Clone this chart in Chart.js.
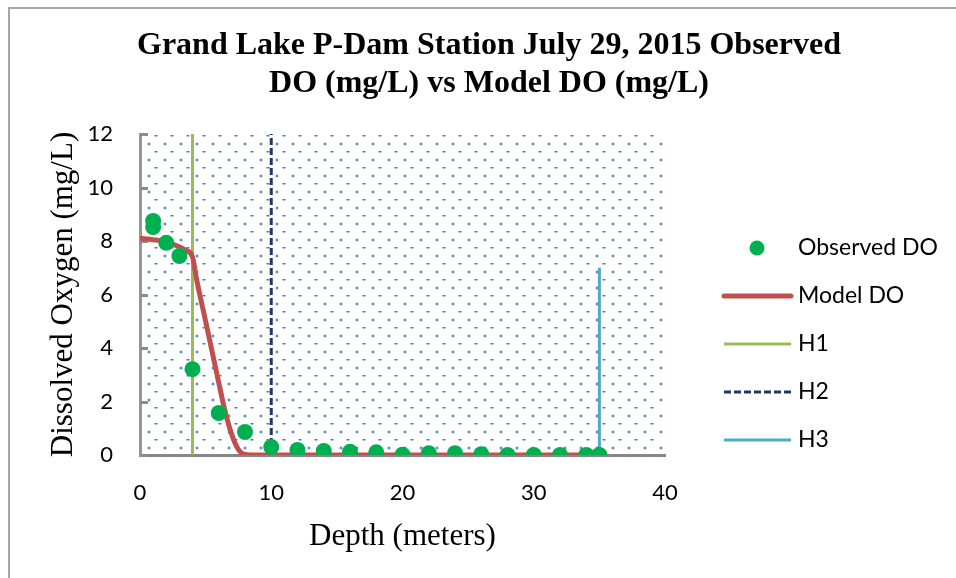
<!DOCTYPE html>
<html>
<head>
<meta charset="utf-8">
<script src="https://cdn.jsdelivr.net/npm/chart.js@4"></script>
<style>
  body { margin: 0; background: #fff; }
  #wrap { width: 956px; height: 578px; position: relative; }
</style>
</head>
<body>
<div id="wrap"><canvas id="doChart"></canvas></div>
<script>
// --- data ---
const obsDepth = [1, 1, 2, 3, 4, 6, 8, 10, 12, 14, 16, 18, 20, 22, 24, 26, 28, 30, 32, 34, 35];
const obsDO = [8.75, 8.52, 7.93, 7.44, 3.21, 1.57, 0.86, 0.3, 0.19, 0.15, 0.12, 0.1, 0.01, 0.07, 0.07, 0.03, 0, 0, 0, 0, 0];

const modelDepth = [0, 1, 2, 3, 3.5, 4, 4.3, 5, 5.5, 6, 6.5, 7, 7.5, 8, 9, 35];
const modelDO = [8.1, 8.05, 7.97, 7.78, 7.65, 7.4, 6.6, 5.0, 3.85, 2.7, 1.6, 0.75, 0.2, 0.02, 0, 0];

const h1Depth = [4, 4];
const h1DO = [0, 12];
const h2Depth = [10, 10];
const h2DO = [0, 12];
const h3Depth = [35, 35];
const h3DO = [0, 7];

const xTicks = [0, 10, 20, 30, 40];
const yTicks = [0, 2, 4, 6, 8, 10, 12];

const titleLines = ['Grand Lake P-Dam Station July 29, 2015 Observed', 'DO (mg/L) vs Model DO (mg/L)'];

function pts(xs, ys) {
    return xs.map((x, i) => ({ x: x, y: ys[i] }));
}

// --- dotted plot-area fill (16px tile) ---
function makePattern() {
    const c = document.createElement('canvas');
    c.width = 16; c.height = 16;
    const g = c.getContext('2d');
    g.fillStyle = '#a9c2ea';
    g.fillRect(7.5, 8.5, 3, 3);
    g.fillStyle = '#5a88d2';
    g.fillRect(8, 9, 2, 2);
    g.fillStyle = '#4a7bcb';
    g.fillRect(-1.5, 1, 3, 1.5);
    g.fillRect(14.5, 1, 3, 1.5);
    return c;
}
const patternTile = makePattern();

const backdrop = {
    id: 'backdrop',
    beforeDraw(chart) {
        const { ctx, chartArea: a } = chart;
        ctx.save();
        ctx.fillStyle = '#fff';
        ctx.fillRect(0, 0, chart.width, chart.height);
        // outer frame, only left and top show
        ctx.strokeStyle = '#a6a6a6';
        ctx.lineWidth = 2;
        ctx.beginPath();
        ctx.moveTo(9, chart.height);
        ctx.lineTo(9, 8);
        ctx.lineTo(chart.width, 8);
        ctx.stroke();
        // pattern
        ctx.translate(a.left, a.top);
        ctx.fillStyle = ctx.createPattern(patternTile, 'repeat');
        ctx.fillRect(0, 0, a.right - a.left, a.bottom - a.top);
        ctx.restore();
    },
    beforeDatasetsDraw(chart) {
        // inward tick marks on the y axis
        const { ctx, chartArea: a } = chart;
        const y = chart.scales.y;
        ctx.save();
        ctx.strokeStyle = '#8c8c8c';
        ctx.lineWidth = 3;
        yTicks.forEach(v => {
            const py = Math.round(y.getPixelForValue(v)) + 0.5;
            ctx.beginPath();
            ctx.moveTo(a.left, py);
            ctx.lineTo(a.left + 8, py);
            ctx.stroke();
        });
        ctx.restore();
    }
};

// --- legend drawn in the right margin ---
const sideLegend = {
    id: 'sideLegend',
    afterDraw(chart) {
        const ctx = chart.ctx;
        const rows = [248, 296, 344, 392, 440];
        ctx.save();
        ctx.font = '23px Lato';
        ctx.textBaseline = 'middle';
        chart.data.datasets.forEach((ds, i) => {
            const y = rows[i];
            if (i === 0) {
                ctx.fillStyle = ds.backgroundColor;
                ctx.beginPath();
                ctx.arc(757, y, 7.5, 0, Math.PI * 2);
                ctx.fill();
            } else {
                ctx.strokeStyle = ds.borderColor;
                ctx.lineWidth = ds.borderWidth;
                ctx.setLineDash(ds.borderDash || []);
                ctx.lineCap = i === 1 ? 'round' : 'butt';
                ctx.beginPath();
                ctx.moveTo(724, y);
                ctx.lineTo(791, y);
                ctx.stroke();
                ctx.setLineDash([]);
            }
            ctx.fillStyle = '#000';
            ctx.fillText(ds.label, 798, y);
        });
        ctx.restore();
    }
};

const ctx = document.getElementById('doChart').getContext('2d');
new Chart(ctx, {
    type: 'scatter',
    data: {
        datasets: [
            {
                label: 'Observed DO',
                data: pts(obsDepth, obsDO),
                backgroundColor: '#00b050',
                borderWidth: 0,
                pointRadius: 8,
                showLine: false,
                order: 0
            },
            {
                label: 'Model DO',
                data: pts(modelDepth, modelDO),
                borderColor: '#c0504d',
                borderWidth: 5,
                pointRadius: 0,
                showLine: true,
                cubicInterpolationMode: 'monotone',
                order: 1
            },
            {
                label: 'H1',
                data: pts(h1Depth, h1DO),
                borderColor: '#9bbb59',
                borderWidth: 3,
                pointRadius: 0,
                showLine: true,
                order: 2
            },
            {
                label: 'H2',
                data: pts(h2Depth, h2DO),
                borderColor: '#1f3864',
                borderWidth: 3,
                borderDash: [7, 3],
                pointRadius: 0,
                showLine: true,
                order: 2
            },
            {
                label: 'H3',
                data: pts(h3Depth, h3DO),
                borderColor: '#4bacc6',
                borderWidth: 3,
                pointRadius: 0,
                showLine: true,
                order: 2
            }
        ]
    },
    options: {
        responsive: true,
        maintainAspectRatio: false,
        animation: false,
        layout: { padding: { left: 22, right: 0, top: 0, bottom: 0 } },
        plugins: {
            legend: { display: false },
            tooltip: { enabled: false },
            title: {
                display: true,
                text: titleLines,
                color: '#000',
                font: { family: '"Liberation Serif"', size: 32, weight: 'bold', lineHeight: 38 / 32 },
                padding: { top: 26.5, bottom: 31.5 }
            }
        },
        scales: {
            x: {
                type: 'linear',
                min: 0,
                max: 40,
                afterBuildTicks: s => { s.ticks = xTicks.map(v => ({ value: v })); },
                afterFit: s => { s.height = 123; },
                grid: { display: false, drawTicks: false },
                border: { display: true, color: '#868686', width: 3 },
                ticks: { color: '#000', font: { family: 'Lato', size: 22 }, padding: 25 },
                title: {
                    display: true,
                    text: 'Depth (meters)',
                    color: '#000',
                    font: { family: '"Liberation Serif"', size: 31 },
                    padding: { top: 0, bottom: 23 }
                }
            },
            y: {
                min: 0,
                max: 12,
                afterBuildTicks: s => { s.ticks = yTicks.map(v => ({ value: v })); },
                afterFit: s => { s.width = 118; },
                grid: { display: false, drawTicks: false },
                border: { display: true, color: '#969696', width: 3, dash: [12, 4] },
                ticks: { color: '#000', font: { family: 'Lato', size: 22 }, padding: 27 },
                title: {
                    display: true,
                    text: 'Dissolved Oxygen (mg/L)',
                    color: '#000',
                    font: { family: '"Liberation Serif"', size: 31 },
                    padding: { top: 23, bottom: 0 }
                }
            },
            // empty axis only to keep room for the legend on the right
            yRoom: {
                type: 'linear',
                position: 'right',
                display: true,
                grid: { display: false, drawTicks: false },
                border: { display: false },
                ticks: { display: false },
                afterFit: s => { s.width = 291; }
            }
        }
    },
    plugins: [backdrop, sideLegend]
});
</script>
</body>
</html>
